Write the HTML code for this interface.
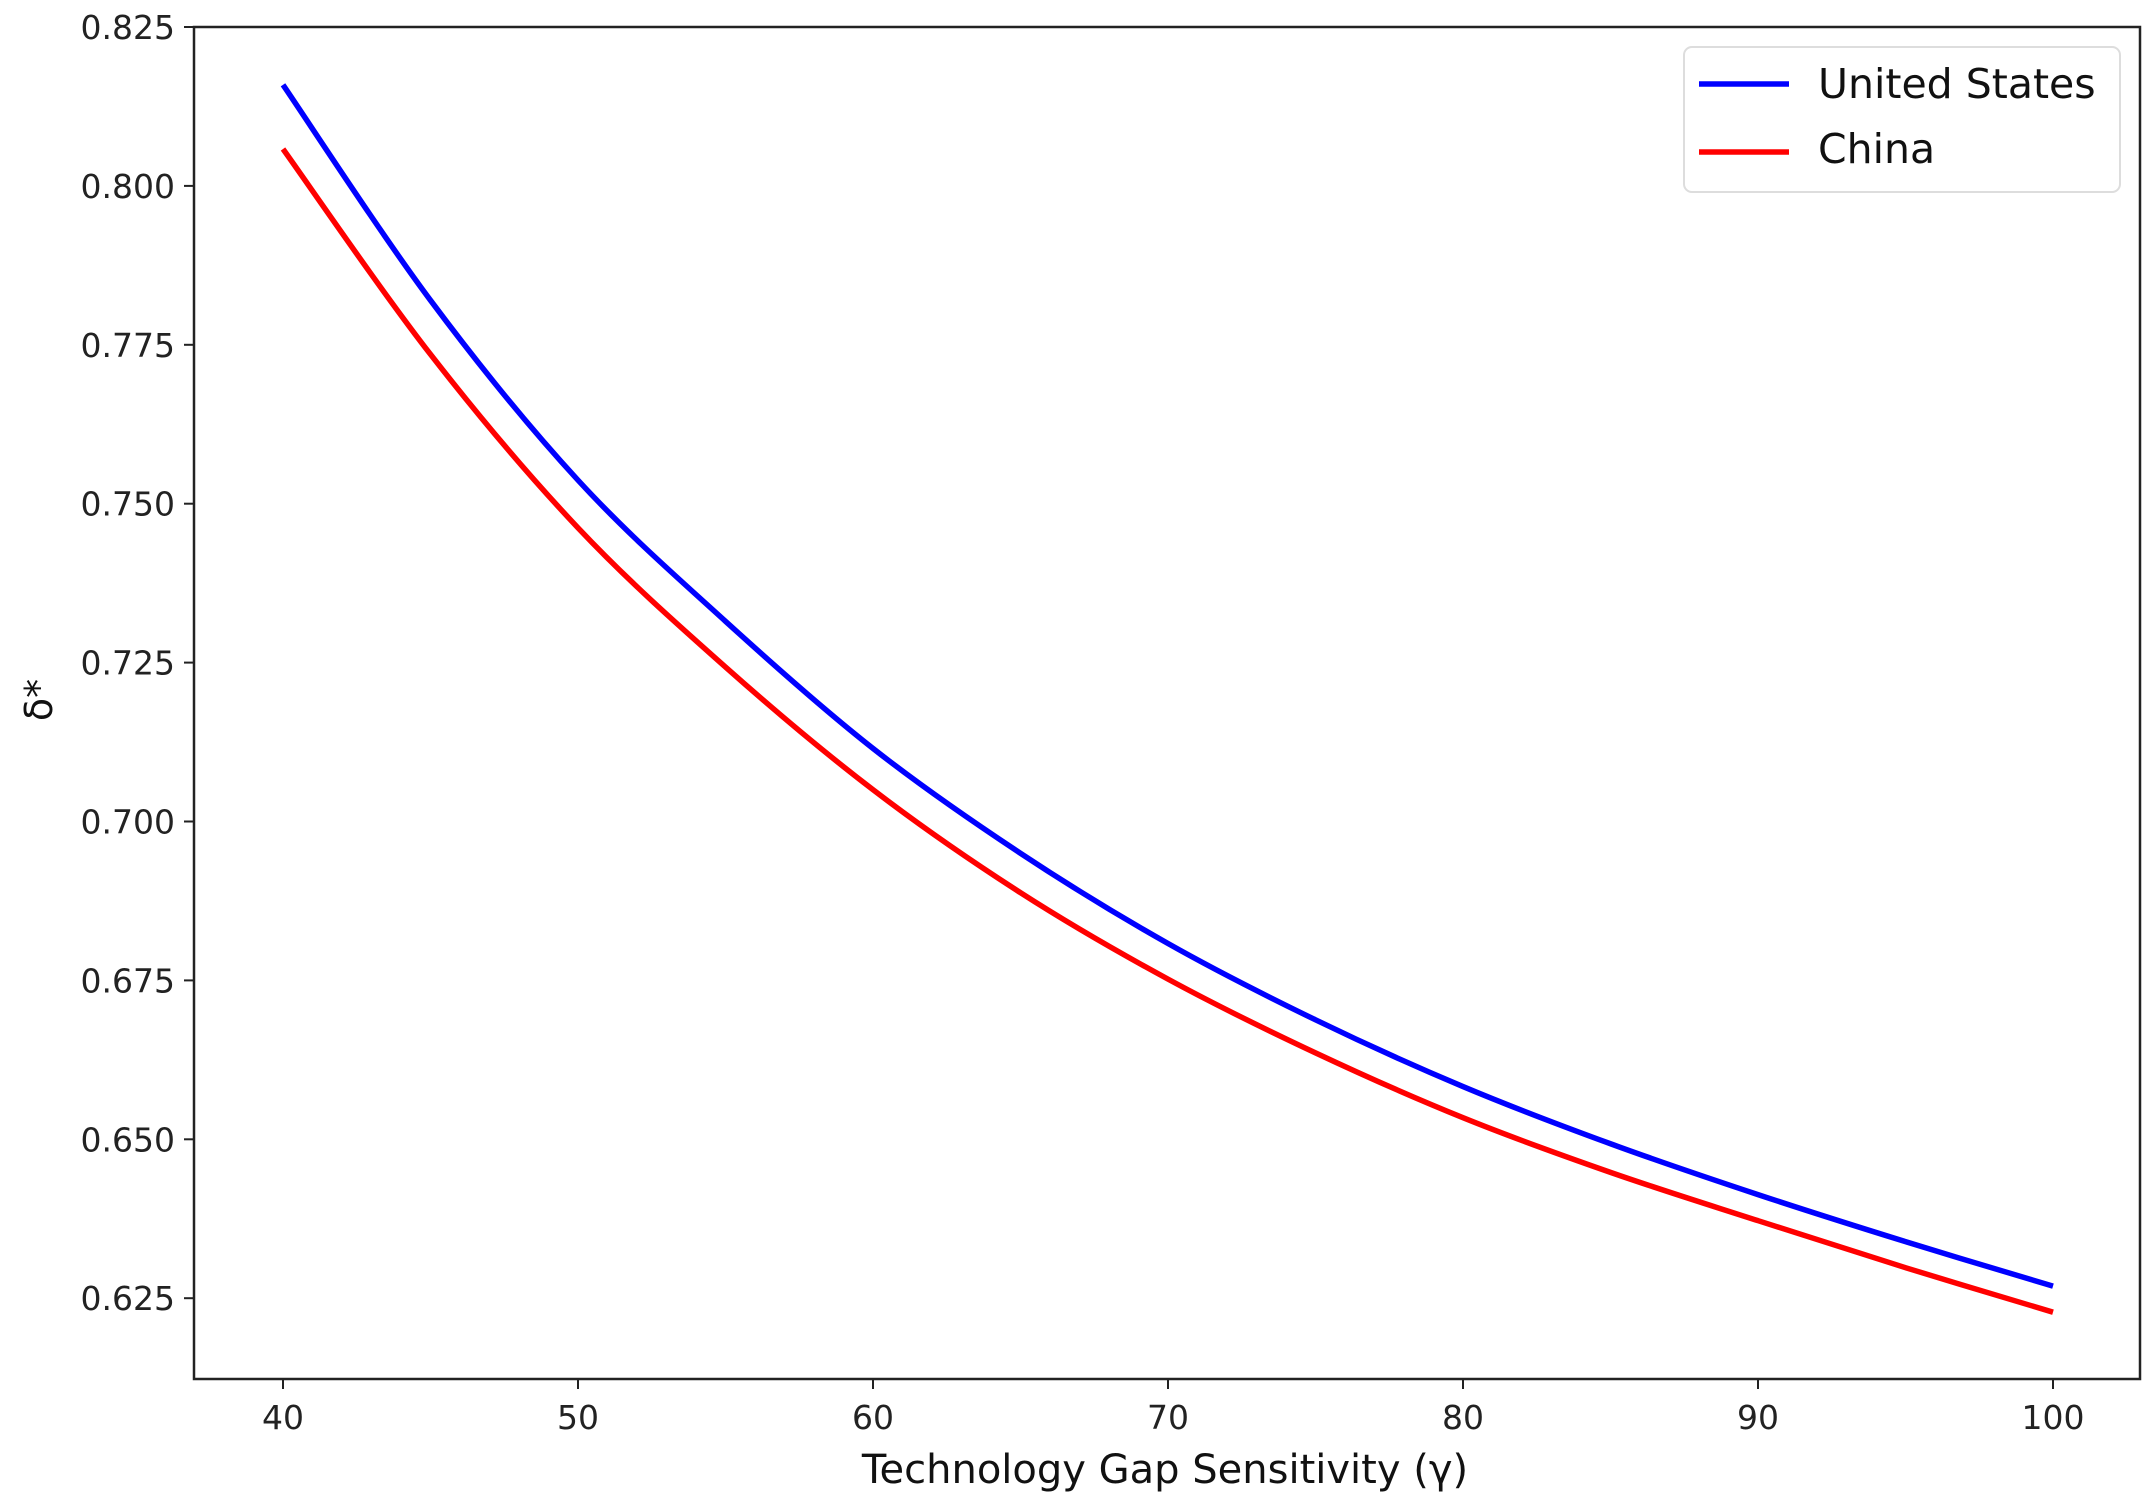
<!DOCTYPE html>
<html><head><meta charset="utf-8"><style>
html,body{margin:0;padding:0;background:#fff;}
svg{display:block;font-family:"DejaVu Sans","Liberation Sans",sans-serif;}
</style></head><body>
<svg id="chart" width="2154" height="1509" viewBox="0 0 2154 1509">
<g id="axes"></g>
<g id="series"></g>
<g id="legend">
<rect x="1684" y="47" width="436" height="145" rx="8" fill="#fff" stroke="#ddd" stroke-width="2"/>
<line x1="1699" y1="84" x2="1789" y2="84" stroke="#0000ff" stroke-width="5.5"/>
<text x="1818" y="98" font-size="41" fill="#111">United States</text>
<line x1="1699" y1="152" x2="1789" y2="152" stroke="#ff0000" stroke-width="5.5"/>
<text x="1818" y="163" font-size="41" fill="#111">China</text>
</g>
<text x="1165" y="1483" font-size="40" text-anchor="middle" fill="#111">Technology Gap Sensitivity (γ)</text>
<text transform="translate(52,700) rotate(-90)" font-size="38" text-anchor="middle" fill="#111">δ*</text>
</svg>
<script>
const xValues = [40,45,50,55,60,65,70,75,80,85,90,95,100];
const usValues = [0.8159,0.7820,0.7537,0.7315,0.7115,0.6950,0.6808,0.6688,0.6583,0.6493,0.6413,0.6339,0.6269];
const chinaValues = [0.8058,0.7735,0.7462,0.7243,0.7050,0.6888,0.6752,0.6636,0.6534,0.6448,0.6372,0.6298,0.6228];
const xTicks = [40,50,60,70,80,90,100];
const yTicks = [0.625,0.650,0.675,0.700,0.725,0.750,0.775,0.800,0.825];

const L=194,R=2140,T=27,B=1379;
function xs(v){return 283+(v-40)*29.5;}
function ys(v){return 27+(0.825-v)/0.025*158.9;}
const NS='http://www.w3.org/2000/svg';
const axes=document.getElementById('axes');
function mk(tag,attrs,parent){const e=document.createElementNS(NS,tag);for(const k in attrs)e.setAttribute(k,attrs[k]);parent.appendChild(e);return e;}
const frame=mk('rect',{x:L,y:T,width:R-L,height:B-T,fill:'none',stroke:'#222','stroke-width':2.5},axes);


xTicks.forEach(t=>{
  const x=xs(t);
  const ln=mk('line',{x1:x,y1:B,x2:x,y2:B+10,stroke:'#222','stroke-width':2},axes);
  
  
  const tx=mk('text',{x:x,y:B+50,'font-size':33,'text-anchor':'middle',fill:'#222'},axes);
  tx.textContent=t;
  
  
});
yTicks.forEach(t=>{
  const y=ys(t);
  const ln=mk('line',{x1:L-10,y1:y,x2:L,y2:y,stroke:'#222','stroke-width':2},axes);
  
  
  const tx=mk('text',{x:L-19,y:y+12,'font-size':33,'text-anchor':'end',fill:'#222'},axes);
  tx.textContent=t.toFixed(3);
  
  
});
function pathFor(vals){
  const p=xValues.map((x,i)=>[xs(x),ys(vals[i])]);
  let d='M'+p[0][0]+','+p[0][1];
  for(let i=0;i<p.length-1;i++){
    const p0=p[Math.max(i-1,0)],p1=p[i],p2=p[i+1],p3=p[Math.min(i+2,p.length-1)];
    const c1=[p1[0]+(p2[0]-p0[0])/6,p1[1]+(p2[1]-p0[1])/6];
    const c2=[p2[0]-(p3[0]-p1[0])/6,p2[1]-(p3[1]-p1[1])/6];
    d+=' C'+c1[0]+','+c1[1]+' '+c2[0]+','+c2[1]+' '+p2[0]+','+p2[1];
  }
  return d;
}
const ser=document.getElementById('series');
const us=mk('path',{d:pathFor(usValues),fill:'none',stroke:'#0000ff','stroke-width':5.5},ser);


const cn=mk('path',{d:pathFor(chinaValues),fill:'none',stroke:'#ff0000','stroke-width':5.5},ser);


</script>
</body></html>
